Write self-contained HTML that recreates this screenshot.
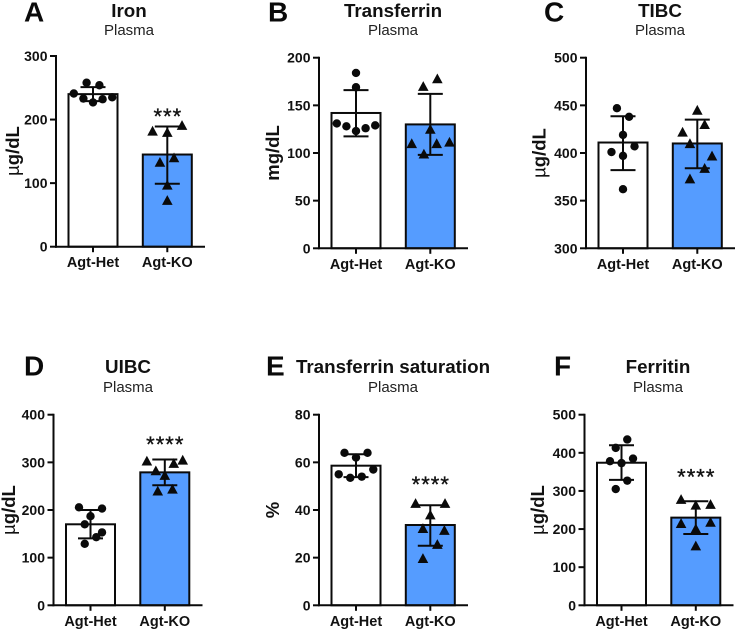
<!DOCTYPE html>
<html lang="en">
<head>
<meta charset="utf-8">
<title>Plasma iron panels</title>
<style>
html,body{margin:0;padding:0;background:#fff;width:736px;height:629px;overflow:hidden}
svg{display:block;font-family:"Liberation Sans",Arial,sans-serif}
.letter{font-size:28px;font-weight:700;fill:#0a0a0a}
.title{font-size:18.8px;font-weight:700;fill:#111;text-anchor:middle}
.sub{font-size:15px;fill:#222;text-anchor:middle}
.ylab{font-size:18.5px;font-weight:700;fill:#111;text-anchor:middle}
.mu{font-weight:400}
.ytick{font-size:14px;font-weight:700;fill:#111;text-anchor:end}
.xtick{font-size:14.5px;font-weight:700;fill:#111;text-anchor:middle}
.stars{font-size:22px;fill:#111;text-anchor:middle;letter-spacing:1px;stroke:#111;stroke-width:.35px}
</style>
</head>
<body>
<svg id="figure" width="736" height="629" viewBox="0 0 736 629" xmlns="http://www.w3.org/2000/svg">
  <g id="panel-a">
    <text class="letter" x="24" y="21.5">A</text>
    <text class="title" x="129" y="17">Iron</text>
    <text class="sub" x="129" y="35">Plasma</text>
    <text class="ylab" transform="translate(19,151) rotate(-90)"><tspan class="mu">µ</tspan>g/dL</text>
  </g>
  <g id="panel-b">
    <text class="letter" x="268" y="21.5">B</text>
    <text class="title" x="393" y="17">Transferrin</text>
    <text class="sub" x="393" y="35">Plasma</text>
    <text class="ylab" transform="translate(279,153) rotate(-90)">mg/dL</text>
  </g>
  <g id="panel-c">
    <text class="letter" x="544" y="21.5">C</text>
    <text class="title" x="660" y="17">TIBC</text>
    <text class="sub" x="660" y="35">Plasma</text>
    <text class="ylab" transform="translate(545.5,153) rotate(-90)"><tspan class="mu">µ</tspan>g/dL</text>
  </g>
  <g id="panel-d">
    <text class="letter" x="24" y="375.5">D</text>
    <text class="title" x="128" y="373">UIBC</text>
    <text class="sub" x="128" y="392">Plasma</text>
    <text class="ylab" transform="translate(15,510) rotate(-90)"><tspan class="mu">µ</tspan>g/dL</text>
  </g>
  <g id="panel-e">
    <text class="letter" x="266" y="375.5">E</text>
    <text class="title" x="393" y="373">Transferrin saturation</text>
    <text class="sub" x="393" y="392">Plasma</text>
    <text class="ylab" transform="translate(279,510) rotate(-90)">%</text>
  </g>
  <g id="panel-f">
    <text class="letter" x="554" y="375.5">F</text>
    <text class="title" x="658" y="373">Ferritin</text>
    <text class="sub" x="658" y="392">Plasma</text>
    <text class="ylab" transform="translate(544,510) rotate(-90)"><tspan class="mu">µ</tspan>g/dL</text>
  </g>
</svg>
<script>
// Shared categories
var categories = ['Agt-Het', 'Agt-KO'];

// A: Iron
var ironTicks = [0, 100, 200, 300];
var ironMeans = [240, 145];
var ironLow = [229, 99];
var ironHigh = [251, 189];
var ironHet = [241, 258, 254, 233, 227, 232, 235];
var ironKo = [182, 191, 180, 133, 140, 97, 73];
var ironHetJitter = [-3, -1, 1, -1.5, 0, 1.5, 3];
var ironKoJitter = [-2.3, 2.3, 0, -1.15, 1.05, 0, 0];
var ironStars = ['', '***'];
var ironStarLevels = [0, 212];

// B: Transferrin
var transferrinTicks = [0, 50, 100, 150, 200];
var transferrinMeans = [142, 130];
var transferrinLow = [117.5, 98];
var transferrinHigh = [166, 162];
var transferrinHet = [184, 169, 131, 128, 123, 126, 129];
var transferrinKo = [170, 178, 125, 110, 110, 111.5, 99];
var transferrinHetJitter = [0, 0, -3, -1.5, 0, 1.5, 3];
var transferrinKoJitter = [-1.1, 1.1, 0, -2.9, 1, 3, -1];
var transferrinStars = ['', ''];
var transferrinStarLevels = [0, 0];

// C: TIBC
var tibcTicks = [300, 350, 400, 450, 500];
var tibcMeans = [411, 410];
var tibcLow = [382, 384];
var tibcHigh = [438.5, 435];
var tibcHet = [447, 438, 419, 407, 401, 397, 362];
var tibcKo = [445, 430, 422, 410, 397, 384, 373];
var tibcHetJitter = [-0.95, 0.95, 0, 1.8, -1.8, 0, 0];
var tibcKoJitter = [0, 1.15, -2.3, -1.15, 2.3, 1.15, -1.15];
var tibcStars = ['', ''];
var tibcStarLevels = [0, 0];

// D: UIBC
var uibcTicks = [0, 100, 200, 300, 400];
var uibcMeans = [170, 279];
var uibcLow = [140.5, 252];
var uibcHigh = [200, 306];
var uibcHet = [205.6, 203, 187, 170, 153, 143, 129];
var uibcKo = [303, 305, 298, 282.5, 273, 244, 240];
var uibcHetJitter = [-1.8, 1.8, 0, -0.9, 1.8, 0.9, -0.9];
var uibcKoJitter = [-2.8, 2.8, 1.4, -1.4, 0, 1.2, -1.1];
var uibcStars = ['', '****'];
var uibcStarLevels = [0, 347];

// E: Transferrin saturation
var saturationTicks = [0, 20, 40, 60, 80];
var saturationMeans = [58.6, 33.7];
var saturationLow = [53.8, 25];
var saturationHigh = [63.4, 42];
var saturationHet = [64, 64, 62, 57, 55, 53.5, 54];
var saturationKo = [42.8, 42.8, 38, 32.3, 31.5, 25.6, 19.7];
var saturationHetJitter = [-1.8, 1.8, 0, 2.7, -2.7, -0.9, 0.9];
var saturationKoJitter = [-2.3, 2.3, 0, -1.15, 2.2, 1.1, -1.15];
var saturationStars = ['', '****'];
var saturationStarLevels = [0, 52.6];

// F: Ferritin
var ferritinTicks = [0, 100, 200, 300, 400, 500];
var ferritinMeans = [374, 230];
var ferritinLow = [329, 187];
var ferritinHigh = [420, 273];
var ferritinHet = [435, 413, 385, 378, 373, 327, 305];
var ferritinKo = [278, 265, 263, 215, 218, 201, 156];
var ferritinHetJitter = [0.9, -0.9, 1.8, -1.8, 0, 0.9, -0.9];
var ferritinKoJitter = [-2.3, 2.3, 0, -2.3, 2.3, 0, 0];
var ferritinStars = ['', '****'];
var ferritinStarLevels = [0, 348];

var NS = 'http://www.w3.org/2000/svg';
var JITTER_UNIT = 6.4;
var BAR_WIDTH = 49;
var CAP_HALF = 12.5;
var INK = '#0a0a0a';
var BLUE = '#559cff';

function make(tag, parent) {
  var el = document.createElementNS(NS, tag);
  parent.appendChild(el);
  return el;
}

function line(parent, x1, y1, x2, y2) {
  var el = make('line', parent);
  el.setAttribute('x1', x1);
  el.setAttribute('y1', y1);
  el.setAttribute('x2', x2);
  el.setAttribute('y2', y2);
  el.setAttribute('stroke', INK);
  el.setAttribute('stroke-width', 2);
  return el;
}

function drawPanel(cfg) {
  var g = document.getElementById(cfg.id);
  var min = cfg.ticks[0];
  var max = cfg.ticks[cfg.ticks.length - 1];
  var yOf = function (v) {
    return cfg.bottom - (v - min) / (max - min) * (cfg.bottom - cfg.top);
  };
  var xOf = function (i) {
    return cfg.axisX + 37 + i * 74.3;
  };

  for (var b = 0; b < categories.length; b++) {
    var cx = xOf(b);
    var bar = make('rect', g);
    
    
    bar.setAttribute('x', cx - BAR_WIDTH / 2);
    bar.setAttribute('y', yOf(cfg.means[b]));
    bar.setAttribute('width', BAR_WIDTH);
    bar.setAttribute('height', yOf(min) - yOf(cfg.means[b]));
    bar.setAttribute('fill', b === 0 ? '#ffffff' : BLUE);
    bar.setAttribute('stroke', INK);
    bar.setAttribute('stroke-width', 2);

    var errStem = line(g, cx, yOf(cfg.low[b]), cx, yOf(cfg.high[b]));
    
    
    var errTop = line(g, cx - CAP_HALF, yOf(cfg.high[b]), cx + CAP_HALF, yOf(cfg.high[b]));
    
    
    var errBot = line(g, cx - CAP_HALF, yOf(cfg.low[b]), cx + CAP_HALF, yOf(cfg.low[b]));
    
    

    var vals = b === 0 ? cfg.het : cfg.ko;
    var jit = b === 0 ? cfg.hetJitter : cfg.koJitter;
    for (var p = 0; p < vals.length; p++) {
      var px = cx + jit[p] * JITTER_UNIT;
      var py = yOf(vals[p]);
      var mark;
      if (b === 0) {
        mark = make('circle', g);
        
        
        mark.setAttribute('cx', px);
        mark.setAttribute('cy', py);
        mark.setAttribute('r', 4.2);
      } else {
        mark = make('polygon', g);
        
        
        mark.setAttribute('points', (px - 5.3) + ',' + (py + 4.6) + ' ' + (px + 5.3) + ',' + (py + 4.6) + ' ' + px + ',' + (py - 5.2));
      }
      mark.setAttribute('fill', INK);
    }

    if (cfg.stars[b]) {
      var st = make('text', g);
      
      
      st.setAttribute('class', 'stars');
      st.setAttribute('x', cx + 0.5);
      st.setAttribute('y', yOf(cfg.starLevels[b]) + 12);
      st.textContent = cfg.stars[b];
    }

    var xt = line(g, cx, cfg.bottom, cx, cfg.bottom + 5.5);
    
    
    var xl = make('text', g);
    
    
    xl.setAttribute('class', 'xtick');
    xl.setAttribute('x', cx);
    xl.setAttribute('y', cfg.bottom + 20.5);
    xl.textContent = categories[b];
  }

  var yAxis = line(g, cfg.axisX, cfg.top - 1, cfg.axisX, cfg.bottom + 1);
  
  
  var xAxis = line(g, cfg.axisX - 1, cfg.bottom, cfg.axisX + 149, cfg.bottom);
  
  

  for (var t = 0; t < cfg.ticks.length; t++) {
    var ty = yOf(cfg.ticks[t]);
    var tk = line(g, cfg.axisX - 6, ty, cfg.axisX, ty);
    
    
    var lb = make('text', g);
    
    
    lb.setAttribute('class', 'ytick');
    lb.setAttribute('x', cfg.axisX - 8.5);
    lb.setAttribute('y', ty + 5);
    lb.textContent = cfg.ticks[t];
  }
}

drawPanel({id: 'panel-a', axisX: 56, top: 56, bottom: 246.7, ticks: ironTicks, means: ironMeans, low: ironLow, high: ironHigh, het: ironHet, ko: ironKo, hetJitter: ironHetJitter, koJitter: ironKoJitter, stars: ironStars, starLevels: ironStarLevels});
drawPanel({id: 'panel-b', axisX: 319, top: 57.7, bottom: 248.3, ticks: transferrinTicks, means: transferrinMeans, low: transferrinLow, high: transferrinHigh, het: transferrinHet, ko: transferrinKo, hetJitter: transferrinHetJitter, koJitter: transferrinKoJitter, stars: transferrinStars, starLevels: transferrinStarLevels});
drawPanel({id: 'panel-c', axisX: 586, top: 57.7, bottom: 248.3, ticks: tibcTicks, means: tibcMeans, low: tibcLow, high: tibcHigh, het: tibcHet, ko: tibcKo, hetJitter: tibcHetJitter, koJitter: tibcKoJitter, stars: tibcStars, starLevels: tibcStarLevels});
drawPanel({id: 'panel-d', axisX: 53.5, top: 414.7, bottom: 605.3, ticks: uibcTicks, means: uibcMeans, low: uibcLow, high: uibcHigh, het: uibcHet, ko: uibcKo, hetJitter: uibcHetJitter, koJitter: uibcKoJitter, stars: uibcStars, starLevels: uibcStarLevels});
drawPanel({id: 'panel-e', axisX: 319, top: 414.7, bottom: 605.3, ticks: saturationTicks, means: saturationMeans, low: saturationLow, high: saturationHigh, het: saturationHet, ko: saturationKo, hetJitter: saturationHetJitter, koJitter: saturationKoJitter, stars: saturationStars, starLevels: saturationStarLevels});
drawPanel({id: 'panel-f', axisX: 584.5, top: 414.7, bottom: 605.3, ticks: ferritinTicks, means: ferritinMeans, low: ferritinLow, high: ferritinHigh, het: ferritinHet, ko: ferritinKo, hetJitter: ferritinHetJitter, koJitter: ferritinKoJitter, stars: ferritinStars, starLevels: ferritinStarLevels});
</script>
</body>
</html>
